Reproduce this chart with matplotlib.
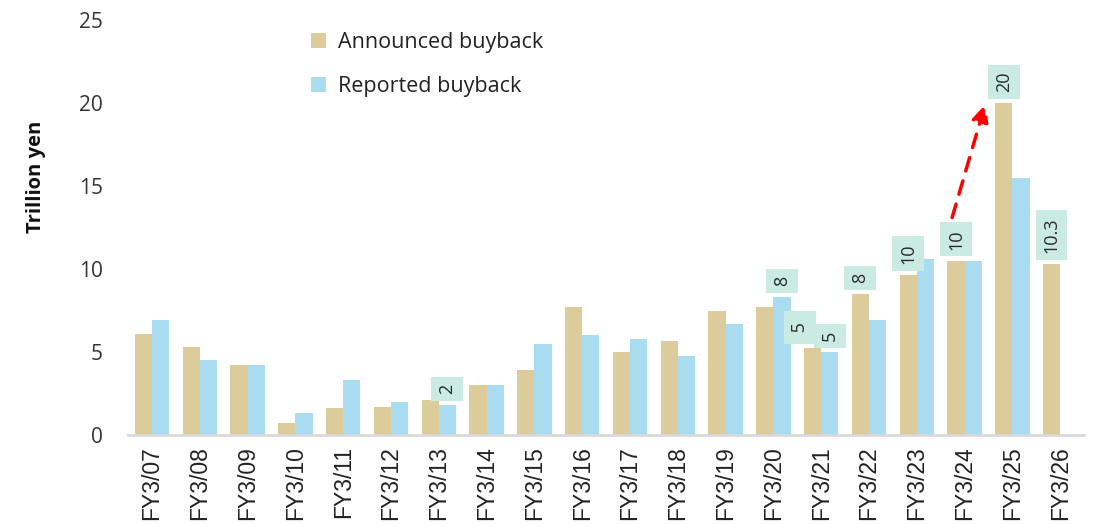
import matplotlib
matplotlib.use("Agg")
import matplotlib.pyplot as plt
import numpy as np

categories = ["FY3/07", "FY3/08", "FY3/09", "FY3/10", "FY3/11", "FY3/12", "FY3/13",
              "FY3/14", "FY3/15", "FY3/16", "FY3/17", "FY3/18", "FY3/19", "FY3/20",
              "FY3/21", "FY3/22", "FY3/23", "FY3/24", "FY3/25", "FY3/26"]
announced = [6.1, 5.3, 4.2, 0.75, 1.65, 1.7, 2.1, 3.0, 3.9, 7.7, 5.0, 5.65, 7.5, 7.7,
             5.25, 8.5, 9.65, 10.5, 20.0, 10.3]
reported = [6.9, 4.5, 4.2, 1.3, 3.3, 2.0, 1.8, 3.0, 5.5, 6.05, 5.8, 4.75, 6.7, 8.3,
            4.98, 6.9, 10.6, 10.5, 15.5, np.nan]
# callout labels: (category index, series, text)
callouts = [(6, "reported", "2"), (13, "reported", "8"), (14, "announced", "5"),
            (14, "reported", "5"), (15, "announced", "8"), (16, "announced", "10"),
            (17, "announced", "10"), (18, "announced", "20"), (19, "announced", "10.3")]
yticks = [0, 5, 10, 15, 20, 25]

# style-only tweaks for callout placement (offset in points, padded text)
callout_style = {(14, "announced"): dict(dx=-9, dy=7.5, pad_text=True)}

c_ann = "#dccb9b"
c_rep = "#a9dcf0"
c_box = "#c9ebe2"

fig = plt.figure(figsize=(11.02, 5.24), dpi=100)
ax = fig.add_axes([0.1162, 0.1698, 0.8675, 0.792])

x = np.arange(len(categories))
w = 0.36
ax.bar(x - w / 2, announced, w, color=c_ann, label="Announced buyback")
ax.bar(x + w / 2, reported, w, color=c_rep, label="Reported buyback")

ax.set_xlim(-0.5, len(categories) - 0.5)
ax.set_ylim(0, 25)
ax.set_yticks(yticks)
ax.set_yticklabels([str(t) for t in yticks], fontsize=15, color="#333333", family="Open Sans")
ax.set_xticks(x)
ax.set_xticklabels(categories, rotation=90, fontsize=16.5, color="#222222", family="Liberation Sans")
ax.tick_params(axis="both", length=0)
ax.tick_params(axis="x", pad=8)
ax.tick_params(axis="y", pad=18)
for s in ["top", "right", "left"]:
    ax.spines[s].set_visible(False)
ax.spines["bottom"].set_color("#d9d9d9")
ax.spines["bottom"].set_linewidth(2)

fig.text(0.033, 0.662, "Trillion yen", rotation=90, ha="center", va="center",
         fontsize=14.5, fontweight="bold", family="Open Sans", color="#111111")

for idx, ser, txt in callouts:
    if ser == "announced":
        xi, yi = idx - w / 2, announced[idx]
    else:
        xi, yi = idx + w / 2, reported[idx]
    st = callout_style.get((idx, ser), {})
    label = f" {txt} " if st.get("pad_text") else txt
    ax.annotate(label, (xi, yi), xytext=(st.get("dx", 0), st.get("dy", 8)),
                textcoords="offset points",
                rotation=90, ha="center", va="bottom", fontsize=13, color="#2a2a2a",
                family="Open Sans",
                bbox=dict(boxstyle="square,pad=0.38", fc=c_box, ec="none"))

ax.annotate("", xy=(17.43, 19.9), xytext=(16.74, 13.1),
            arrowprops=dict(arrowstyle="-|>,head_length=1.0,head_width=0.5", color="#ff0000",
                            lw=2.5, linestyle=(0, (4, 3)), shrinkA=0, shrinkB=0))

leg = ax.legend(loc="upper left", bbox_to_anchor=(0.265, 0.975), bbox_transform=fig.transFigure,
                frameon=False, handlelength=0.7, handleheight=0.7,
                labelspacing=1.05, handletextpad=0.55, prop={"family": "Open Sans", "size": 15.5})
for t in leg.get_texts():
    t.set_color("#222222")

fig.savefig("out.png", dpi=100)
